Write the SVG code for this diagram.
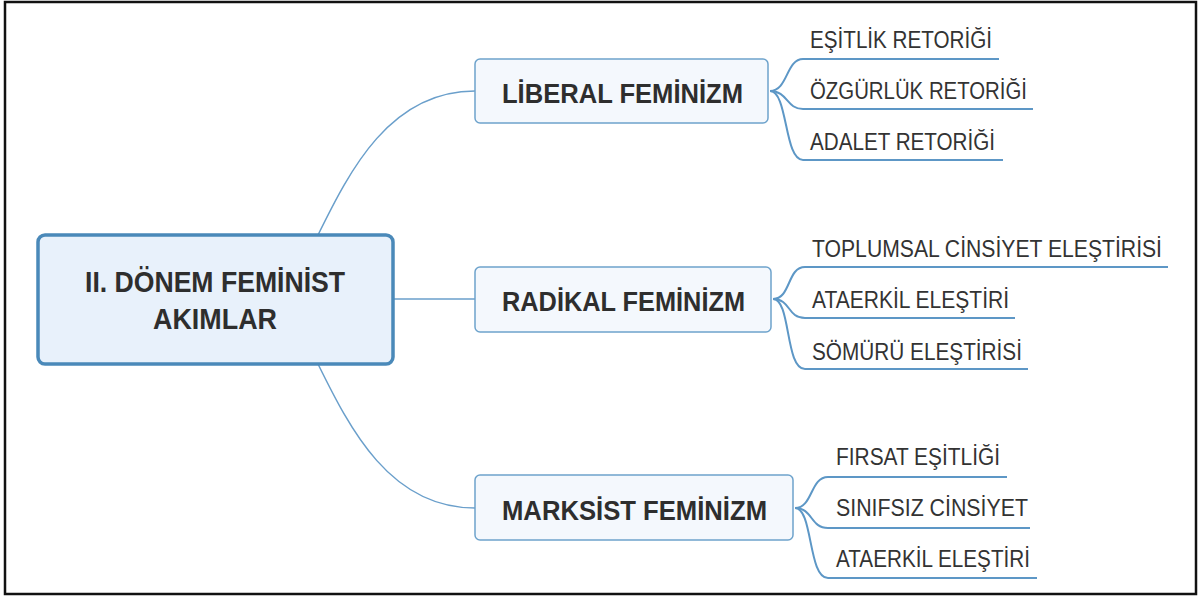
<svg xmlns="http://www.w3.org/2000/svg" width="1200" height="597" viewBox="0 0 1200 597">
<style>
.frame{fill:#ffffff;stroke:#111111;stroke-width:2.5}
.root{fill:#e8f1fb;stroke:#4a89b9;stroke-width:3.5}
.topic{fill:#f4f8fd;stroke:#6ea3cc;stroke-width:1.5}
.conn{fill:none;stroke:#6a9fcb;stroke-width:1.5}
.sub{fill:none;stroke:#5d97c6;stroke-width:2}
.tb{font-family:"Liberation Sans",Arial,sans-serif;font-weight:bold;fill:#2e2e2e}
.tr{font-family:"Liberation Sans",Arial,sans-serif;font-size:23px;fill:#333333}
</style>
<rect class="frame" x="5" y="2" width="1191" height="592"/>
<g id="connectors">
<path class="conn" d="M318,235 C350,170 390,91 475,91"/>
<path class="conn" d="M393,299 L475,299"/>
<path class="conn" d="M318,364 C350,429 390,508 475,508"/>
<path class="sub" d="M770,91 C788,91 786,59 803,59 L999,59"/>
<path class="sub" d="M770,91 C788,91 786,109 803,109 L1033,109"/>
<path class="sub" d="M770,91 C788,91 784,160 803,160 L1003,160"/>
<path class="sub" d="M773,299 C791,299 787,267 805,267 L1168,267"/>
<path class="sub" d="M773,299 C791,299 787,318 805,318 L1015,318"/>
<path class="sub" d="M773,299 C791,299 785,369 805,369 L1028,369"/>
<path class="sub" d="M795,508 C813,508 810,477 828,477 L1007,477"/>
<path class="sub" d="M795,508 C813,508 810,528 828,528 L1030,528"/>
<path class="sub" d="M795,508 C813,508 808,578 828,578 L1037,578"/>
</g>
<g id="root">
<rect class="root" x="38" y="235" width="355" height="129" rx="7"/>
<text class="tb" x="85" y="292" font-size="30" textLength="260" lengthAdjust="spacingAndGlyphs">II. DÖNEM FEMİNİST</text>
<text class="tb" x="153" y="329" font-size="30" textLength="124" lengthAdjust="spacingAndGlyphs">AKIMLAR</text>
</g>
<g id="liberal">
<rect class="topic" x="475" y="59" width="293" height="64" rx="5"/>
<text class="tb" x="502" y="103" font-size="27" textLength="241" lengthAdjust="spacingAndGlyphs">LİBERAL FEMİNİZM</text>
</g>
<g id="radikal">
<rect class="topic" x="475" y="267" width="296" height="65" rx="5"/>
<text class="tb" x="502" y="311" font-size="27" textLength="243" lengthAdjust="spacingAndGlyphs">RADİKAL FEMİNİZM</text>
</g>
<g id="marksist">
<rect class="topic" x="475" y="475" width="318" height="65" rx="5"/>
<text class="tb" x="502" y="520" font-size="27" textLength="265" lengthAdjust="spacingAndGlyphs">MARKSİST FEMİNİZM</text>
</g>
<g id="liberal-1"><text class="tr" x="810" y="48" textLength="182" lengthAdjust="spacingAndGlyphs">EŞİTLİK RETORİĞİ</text></g>
<g id="liberal-2"><text class="tr" x="810" y="99" textLength="217" lengthAdjust="spacingAndGlyphs">ÖZGÜRLÜK RETORİĞİ</text></g>
<g id="liberal-3"><text class="tr" x="810" y="150" textLength="185" lengthAdjust="spacingAndGlyphs">ADALET RETORİĞİ</text></g>
<g id="radikal-1"><text class="tr" x="812" y="257" textLength="350" lengthAdjust="spacingAndGlyphs">TOPLUMSAL CİNSİYET ELEŞTİRİSİ</text></g>
<g id="radikal-2"><text class="tr" x="812" y="308" textLength="197" lengthAdjust="spacingAndGlyphs">ATAERKİL ELEŞTİRİ</text></g>
<g id="radikal-3"><text class="tr" x="812" y="360" textLength="210" lengthAdjust="spacingAndGlyphs">SÖMÜRÜ ELEŞTİRİSİ</text></g>
<g id="marksist-1"><text class="tr" x="836" y="465" textLength="164" lengthAdjust="spacingAndGlyphs">FIRSAT EŞİTLİĞİ</text></g>
<g id="marksist-2"><text class="tr" x="836" y="516" textLength="192" lengthAdjust="spacingAndGlyphs">SINIFSIZ CİNSİYET</text></g>
<g id="marksist-3"><text class="tr" x="836" y="567" textLength="194" lengthAdjust="spacingAndGlyphs">ATAERKİL ELEŞTİRİ</text></g>
</svg>
